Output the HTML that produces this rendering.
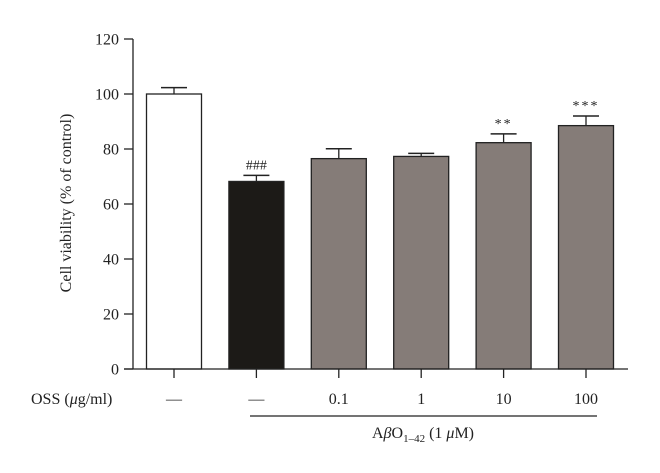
<!DOCTYPE html>
<html><head><meta charset="utf-8"><style>
html,body{margin:0;padding:0;background:#fff;}
svg{display:block;font-family:"Liberation Serif",serif;}
</style></head><body>
<svg id="chart" width="660" height="473" viewBox="0 0 660 473" xmlns="http://www.w3.org/2000/svg"></svg>
<script>
const categories = ["—","—","0.1","1","10","100"];
const values = [100, 68.2, 76.5, 77.3, 82.3, 88.5];
const errTop = [102.3, 70.4, 80.1, 78.4, 85.5, 92.0];
const fills = ["#ffffff","#1c1a17","#857c78","#857c78","#857c78","#857c78"];
const marks = ["","###","","","**","***"];
const yTicks = [0,20,40,60,80,100,120];

const svg = document.getElementById('chart');
const NS = "http://www.w3.org/2000/svg";
const x0 = 133, yBase = 369, yTopPx = 39, yMax = 120;
const y = v => yBase - (v / yMax) * (yBase - yTopPx);
const xc = i => 174 + i * 82.4;
const bw = 55;
function mk(tag, attrs, text){
  const e = document.createElementNS(NS, tag);
  for (const k in attrs) e.setAttribute(k, attrs[k]);
  if (text !== undefined) e.textContent = text;
  svg.appendChild(e);
  return e;
}
// y axis
let ax = mk('line',{x1:x0,y1:yTopPx,x2:x0,y2:yBase,stroke:'#222','stroke-width':1.3});


yTicks.forEach(t=>{
  const tk = mk('line',{x1:x0-9,y1:y(t),x2:x0,y2:y(t),stroke:'#222','stroke-width':1.3});
  
  
  const lb = mk('text',{x:x0-14,y:y(t)+5.5,'text-anchor':'end','font-size':16,fill:'#222'},String(t));
  
  
});
const yt = mk('text',{x:0,y:0,'text-anchor':'middle','font-size':16,fill:'#222',transform:'translate(71,203) rotate(-90)'},'Cell viability (% of control)');


// bars
values.forEach((v,i)=>{
  const cx = xc(i);
  const b = mk('rect',{x:cx-bw/2,y:y(v),width:bw,height:yBase-y(v),fill:fills[i],stroke:'#222','stroke-width':1.3});
  
  
  const e1 = mk('line',{x1:cx,y1:y(v),x2:cx,y2:y(errTop[i]),stroke:'#222','stroke-width':1.3});
  
  
  const e2 = mk('line',{x1:cx-13,y1:y(errTop[i]),x2:cx+13,y2:y(errTop[i]),stroke:'#222','stroke-width':1.5});
  
  
  if (marks[i]) {
    const m = mk('text',{x:cx,y:y(errTop[i])-6,'text-anchor':'middle','font-size':14,fill:'#222','letter-spacing':i===1?0:2},marks[i]);
    
    
  }
  const tk = mk('line',{x1:cx,y1:yBase,x2:cx,y2:yBase+9,stroke:'#222','stroke-width':1.3});
  
  
  const lb = mk('text',{x:cx,y:404,'text-anchor':'middle','font-size':16,fill:'#222'},categories[i]);
  
  
});
// x axis
const xa = mk('line',{x1:x0-9,y1:yBase,x2:628,y2:yBase,stroke:'#222','stroke-width':1.3});


const oss = mk('text',{x:31,y:404,'font-size':16,fill:'#222'},'');


oss.innerHTML = 'OSS (<tspan font-style="italic">μ</tspan>g/ml)';
const br = mk('line',{x1:250,y1:416,x2:597,y2:416,stroke:'#222','stroke-width':1.2});


const ab = mk('text',{x:423,y:438,'text-anchor':'middle','font-size':16,fill:'#222'},'');


ab.innerHTML = 'A<tspan font-style="italic">β</tspan>O<tspan font-size="11" dy="4">1–42</tspan><tspan dy="-4"> (1 </tspan><tspan font-style="italic">μ</tspan>M)';
</script>
</body></html>
